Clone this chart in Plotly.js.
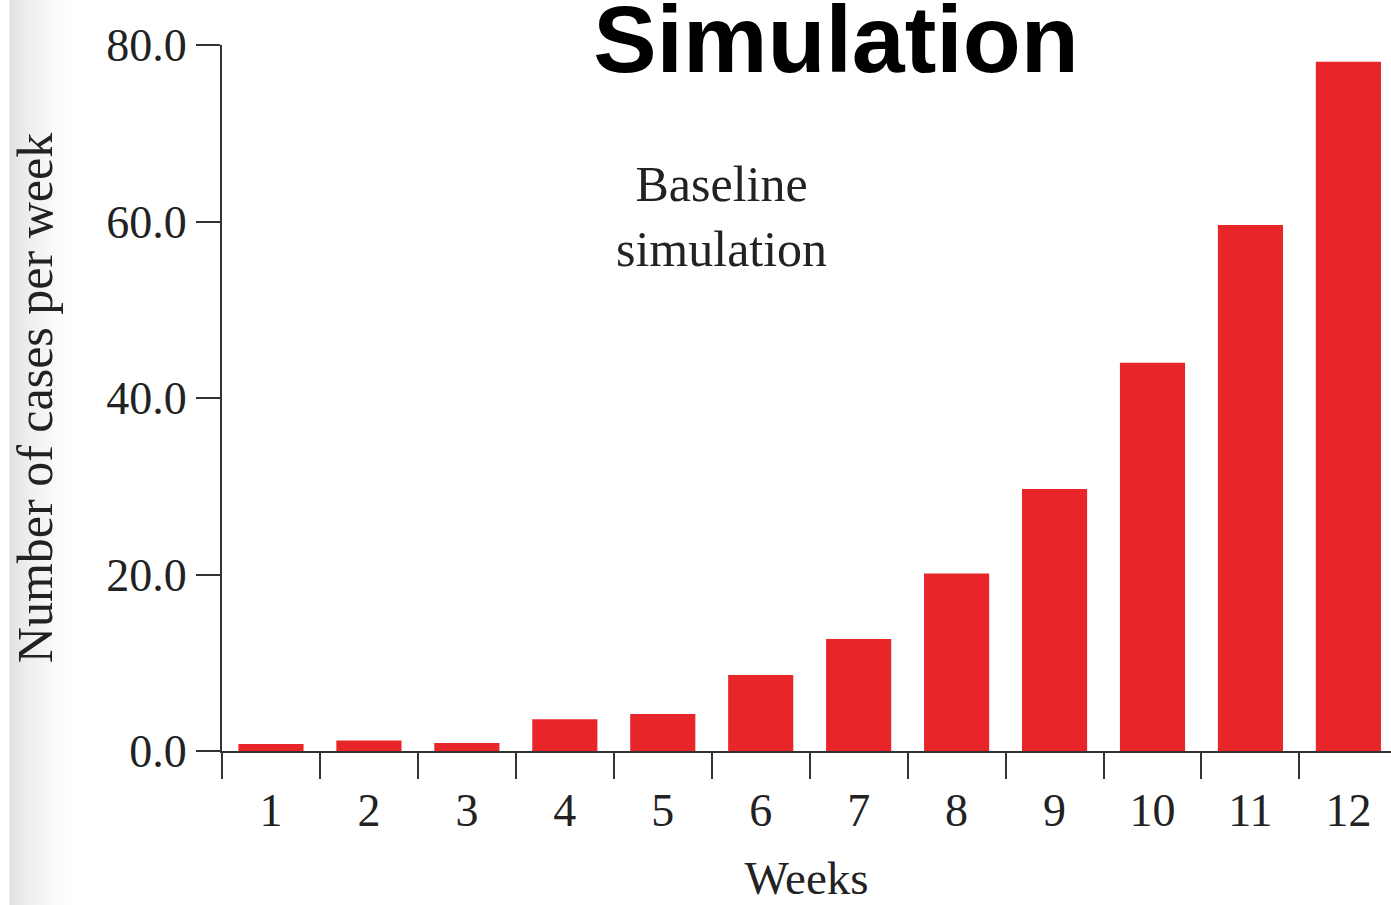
<!DOCTYPE html>
<html>
<head>
<meta charset="utf-8">
<script src="https://cdn.plot.ly/plotly-3.0.1.min.js"></script>
<style>
html,body{margin:0;padding:0;}
body{width:1391px;height:905px;background:linear-gradient(to right,#ffffff 0px,#ffffff 9px,#e2e2e2 10px,#efefef 30px,#fafafa 55px,#ffffff 75px);}
#chart{width:1391px;height:905px;}
</style>
</head>
<body>
<div id="chart"></div>
<script>
var weeks = ["1","2","3","4","5","6","7","8","9","10","11","12"];
var cases = [0.8, 1.2, 0.9, 3.6, 4.2, 8.6, 12.7, 20.1, 29.7, 44.0, 59.6, 78.1];
var yTickVals = [0, 20, 40, 60, 80];
var yTickText = ["0.0", "20.0", "40.0", "60.0", "80.0"];

var serif = "Liberation Serif, Times New Roman, serif";
var ink = "#222222";

var trace = {
  type: "bar",
  x: weeks,
  y: cases,
  marker: {color: "#e8262a", line: {width: 0}},
  hoverinfo: "x+y"
};

var layout = {
  width: 1391,
  height: 905,
  paper_bgcolor: "rgba(0,0,0,0)",
  plot_bgcolor: "rgba(0,0,0,0)",
  margin: {l: 222, r: 0, t: 45, b: 153.5, pad: 0},
  bargap: 0.335,
  showlegend: false,
  title: {
    text: "<b>Simulation</b>",
    font: {family: "Liberation Sans, Arial, sans-serif", size: 95, color: "#000000"},
    x: 0.601, xanchor: "center", xref: "container",
    y: 0.957, yanchor: "middle", yref: "container"
  },
  xaxis: {
    type: "category",
    range: [-0.5001, 11.435],
    tickson: "boundaries",
    ticks: "outside",
    ticklen: 26,
    tickwidth: 2,
    tickcolor: "#333333",
    ticklabelstandoff: 18,
    showline: true,
    linecolor: "#333333",
    linewidth: 2,
    showgrid: false,
    zeroline: false,
    tickfont: {family: serif, size: 46, color: ink},
    title: {text: "Weeks", font: {family: serif, size: 47, color: ink}, standoff: 26},
    fixedrange: true
  },
  yaxis: {
    range: [0, 80],
    tickvals: yTickVals,
    ticktext: yTickText,
    ticks: "outside",
    ticklen: 24,
    tickwidth: 2,
    tickcolor: "#333333",
    showline: true,
    linecolor: "#333333",
    linewidth: 2,
    showgrid: false,
    zeroline: false,
    tickfont: {family: serif, size: 46, color: ink},
    title: {text: "Number of cases per week", font: {family: serif, size: 50, color: ink}, standoff: 38},
    fixedrange: true
  },
  annotations: [{
    text: "Baseline<br>simulation",
    xref: "paper", yref: "paper",
    x: 0.4277, y: 0.757,
    xanchor: "center", yanchor: "middle",
    showarrow: false,
    align: "center",
    font: {family: serif, size: 50, color: ink}
  }]
};

Plotly.newPlot("chart", [trace], layout, {displayModeBar: false, staticPlot: true});
</script>
</body>
</html>
